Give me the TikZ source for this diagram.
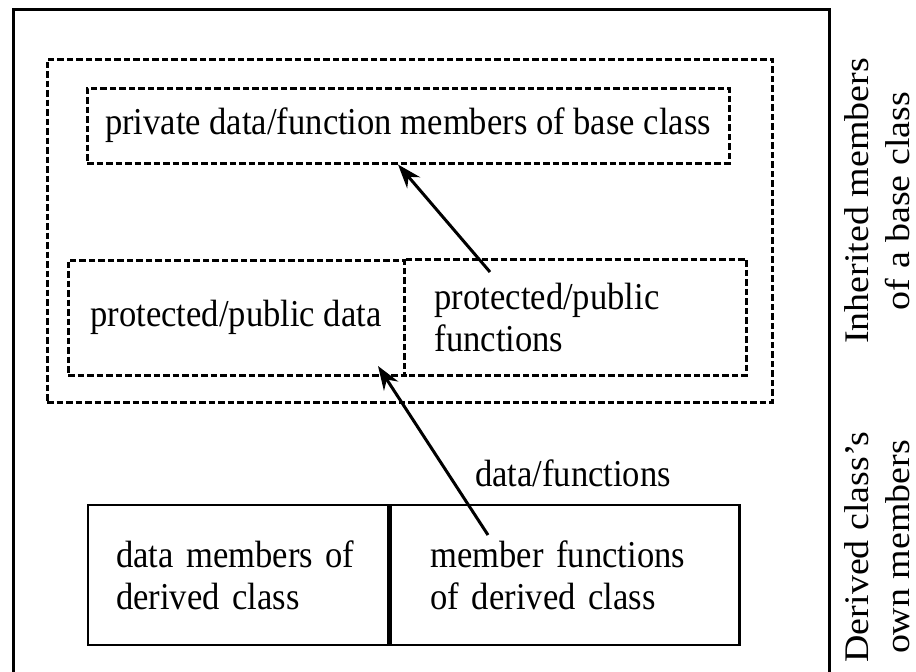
\documentclass[tikz,border=0pt]{standalone}
\usepackage{fontspec}
\setmainfont[FakeStretch=0.91]{Liberation Serif}
\newfontfamily\sidefont[FakeStretch=1.1]{Liberation Serif}
\usetikzlibrary{arrows.meta}
\usetikzlibrary{calc}

\tikzset{
  dashbox/.style={draw, line width=3pt, dash pattern=on 6.5pt off 3pt},
  dashline/.style={line width=3pt, dash pattern=on 6.5pt off 3pt},
  solidbox/.style={draw, line width=2.5pt},
  link/.style={line width=3pt, -{Stealth[length=24pt,width=17pt]}},
  sidelabel/.style={rotate=90, align=center, inner sep=0pt,
    font=\sidefont\fontsize{34.5}{41}\selectfont},
}

\begin{document}
\begin{tikzpicture}[x=1pt, y=-1pt, font=\fontsize{38}{42}\selectfont]
  \useasboundingbox (0,0) rectangle (916,672);

  % frame, open at the bottom
  \draw[line width=3pt] (13,672) -- (13,9) -- (829,9) -- (829,672);

  % inherited part
  \node[dashbox, minimum width=725pt, minimum height=343pt] (inherited) at (409.5,230.5) {};
  \node[dashbox, minimum width=642pt, minimum height=75pt] (private) at (408,125.5)
    {private data/function members of base class};
  \node[dashbox, minimum width=336pt, minimum height=115pt] (pdata) at (236,317.5)
    {protected/public data};
  \node[minimum height=115pt, text width=283pt, inner xsep=29pt, align=left, anchor=west]
    (pfunc) at (pdata.east) {protected/public\\functions};
  \draw[dashline] (pfunc.north west) -- (pfunc.north east) -- (pfunc.south east) -- (pfunc.south west);

  % own part
  \node[solidbox, minimum height=140pt, text width=244pt, inner xsep=28pt, align=left]
    (dmem) at (238,575) {data members of\\derived class};
  \node[solidbox, minimum height=140pt, text width=269pt, inner xsep=40pt, align=left, anchor=west]
    (fmem) at (dmem.east) {member functions\\of derived class};

  \node (flowlabel) at (573,473) {data/functions};

  % side labels
  \node[sidelabel] (inhlabel) at (877,201) {Inherited members\\of a base class};
  \node[sidelabel] (ownlabel) at (877,547) {Derived class’s\\own members};

  % arrows
  \coordinate (upfrom) at (490,272);
  \coordinate (fromfunc) at (488,535);
  \coordinate (intodata) at (378,366);
  \draw[link] (upfrom) -- ($(private.south)+(-10,0)$);
  \draw[link] (fromfunc) -- (intodata);
\end{tikzpicture}
\end{document}
